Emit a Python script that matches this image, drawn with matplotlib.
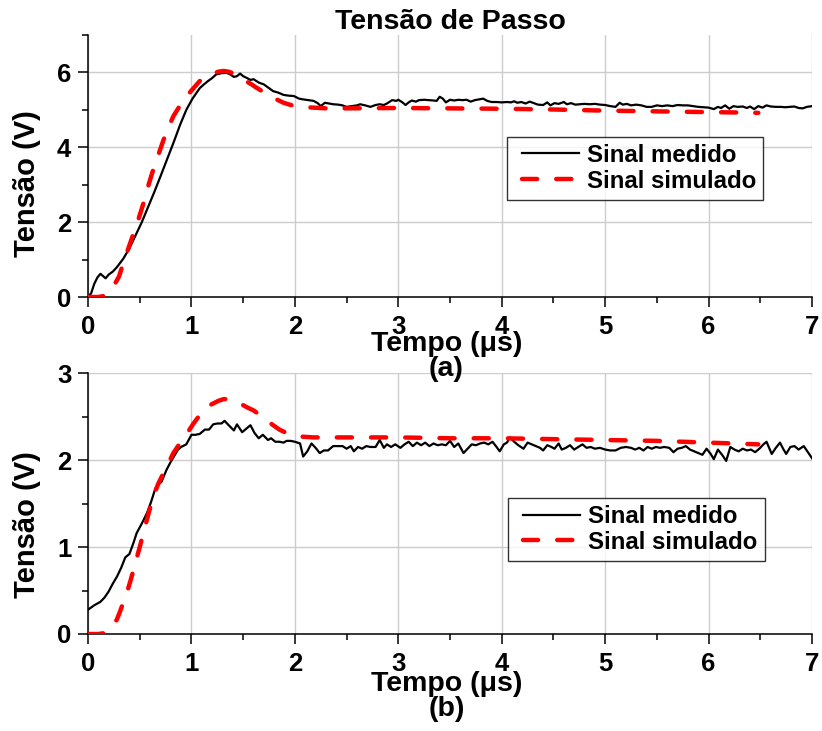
import matplotlib.pyplot as plt
from matplotlib.ticker import MultipleLocator
from matplotlib.legend_handler import HandlerLine2D
from matplotlib.lines import Line2D

plt.rcParams['font.family'] = ['Liberation Sans', 'DejaVu Sans']
plt.rcParams['font.weight'] = 'bold'

# ---- (a) measured signal ----
t_med_a = [0.00, 0.03, 0.06, 0.09, 0.12, 0.15, 0.17, 0.20, 0.24, 0.28, 0.34, 0.40, 0.46, 0.52,
           0.58, 0.64, 0.70, 0.76, 0.83, 0.89, 0.95, 1.01, 1.08, 1.12, 1.16, 1.20, 1.24, 1.29,
           1.34, 1.38, 1.41, 1.44, 1.47, 1.50, 1.53, 1.57, 1.60, 1.65, 1.70, 1.75, 1.79, 1.84,
           1.89, 1.94, 1.99, 2.04, 2.08, 2.13, 2.18, 2.22, 2.25, 2.29, 2.33, 2.37, 2.42, 2.46,
           2.50, 2.55, 2.60, 2.63, 2.68, 2.73, 2.78, 2.82, 2.86, 2.89, 2.94, 2.98, 3.00, 3.04,
           3.07, 3.10, 3.13, 3.17, 3.20, 3.25, 3.30, 3.34, 3.37, 3.40, 3.43, 3.46, 3.50, 3.54,
           3.58, 3.62, 3.66, 3.70, 3.74, 3.78, 3.82, 3.86, 3.90, 3.95, 4.00, 4.05, 4.09, 4.12,
           4.15, 4.19, 4.23, 4.27, 4.31, 4.35, 4.40, 4.44, 4.47, 4.51, 4.55, 4.60, 4.63, 4.67,
           4.71, 4.75, 4.80, 4.85, 4.90, 4.95, 5.00, 5.05, 5.10, 5.14, 5.17, 5.21, 5.25, 5.30,
           5.35, 5.40, 5.45, 5.50, 5.55, 5.60, 5.65, 5.70, 5.75, 5.80, 5.85, 5.90, 5.95, 6.00,
           6.05, 6.09, 6.12, 6.16, 6.20, 6.24, 6.28, 6.33, 6.37, 6.40, 6.44, 6.48, 6.52, 6.56,
           6.60, 6.65, 6.70, 6.74, 6.78, 6.83, 6.87, 6.91, 6.95, 7.00]
v_med_a = [0.00, 0.10, 0.35, 0.52, 0.62, 0.55, 0.50, 0.60, 0.68, 0.80, 1.02, 1.30, 1.65, 2.00,
           2.40, 2.80, 3.22, 3.65, 4.15, 4.60, 5.00, 5.30, 5.58, 5.68, 5.77, 5.85, 5.95, 5.98,
           5.99, 5.94, 5.88, 5.90, 5.97, 5.90, 5.86, 5.80, 5.82, 5.73, 5.68, 5.58, 5.50, 5.46,
           5.40, 5.38, 5.37, 5.30, 5.28, 5.26, 5.24, 5.18, 5.10, 5.19, 5.17, 5.15, 5.14, 5.12,
           5.08, 5.10, 5.12, 5.15, 5.12, 5.08, 5.13, 5.15, 5.13, 5.17, 5.26, 5.24, 5.27, 5.20,
           5.13, 5.20, 5.25, 5.22, 5.26, 5.27, 5.26, 5.25, 5.24, 5.35, 5.30, 5.20, 5.27, 5.25,
           5.27, 5.26, 5.27, 5.22, 5.26, 5.28, 5.30, 5.24, 5.21, 5.21, 5.20, 5.21, 5.20, 5.23,
           5.19, 5.21, 5.17, 5.22, 5.18, 5.14, 5.13, 5.20, 5.12, 5.18, 5.16, 5.21, 5.15, 5.18,
           5.14, 5.15, 5.16, 5.15, 5.16, 5.14, 5.13, 5.10, 5.08, 5.19, 5.14, 5.16, 5.12, 5.14,
           5.12, 5.08, 5.08, 5.12, 5.10, 5.12, 5.10, 5.13, 5.12, 5.12, 5.10, 5.08, 5.07, 5.06,
           5.02, 5.08, 5.05, 5.12, 5.03, 5.10, 5.08, 5.09, 5.05, 5.09, 5.02, 5.10, 5.06, 5.12,
           5.09, 5.08, 5.08, 5.07, 5.08, 5.09, 5.05, 5.04, 5.08, 5.10]

# ---- (a) simulated signal ----
t_sim_a = [0.00, 0.10, 0.16, 0.20, 0.245, 0.30, 0.34, 0.39, 0.44, 0.49, 0.535, 0.58, 0.63, 0.68,
           0.73, 0.78, 0.825, 0.89, 0.954, 1.02, 1.08, 1.14, 1.21, 1.26, 1.31, 1.36, 1.40, 1.45,
           1.50, 1.57, 1.63, 1.70, 1.76, 1.83, 1.89, 1.96, 2.02, 2.10, 2.18, 2.30, 2.50, 3.00,
           3.50, 4.00, 4.50, 5.00, 5.50, 6.00, 6.30, 6.48]
v_sim_a = [0.00, 0.00, 0.03, 0.12, 0.28, 0.55, 0.90, 1.30, 1.70, 2.10, 2.50, 2.95, 3.40, 3.80,
           4.20, 4.55, 4.83, 5.12, 5.37, 5.58, 5.77, 5.88, 5.97, 6.02, 6.04, 6.02, 5.98, 5.90,
           5.81, 5.70, 5.59, 5.47, 5.37, 5.27, 5.19, 5.13, 5.10, 5.07, 5.06, 5.04, 5.04, 5.05,
           5.04, 5.03, 5.01, 4.98, 4.96, 4.94, 4.93, 4.92]

# ---- (b) measured signal ----
t_med_b = [0.00, 0.06, 0.12, 0.16, 0.20, 0.24, 0.28, 0.32, 0.36, 0.40, 0.44, 0.47, 0.52, 0.57,
           0.61, 0.65, 0.68, 0.71, 0.76, 0.80, 0.83, 0.87, 0.90, 0.95, 1.00, 1.04, 1.08, 1.13,
           1.17, 1.21, 1.25, 1.29, 1.32, 1.36, 1.41, 1.44, 1.49, 1.53, 1.57, 1.61, 1.65, 1.69,
           1.74, 1.77, 1.81, 1.85, 1.89, 1.92, 1.96, 2.00, 2.05, 2.08, 2.12, 2.16, 2.20, 2.24,
           2.28, 2.32, 2.37, 2.42, 2.46, 2.50, 2.54, 2.57, 2.61, 2.65, 2.69, 2.73, 2.78, 2.82,
           2.86, 2.89, 2.93, 2.97, 3.02, 3.06, 3.10, 3.14, 3.18, 3.22, 3.26, 3.30, 3.34, 3.38,
           3.42, 3.46, 3.50, 3.54, 3.58, 3.63, 3.67, 3.71, 3.75, 3.79, 3.83, 3.87, 3.91, 3.95,
           3.98, 4.02, 4.05, 4.08, 4.12, 4.16, 4.21, 4.25, 4.29, 4.33, 4.37, 4.40, 4.44, 4.48,
           4.51, 4.55, 4.58, 4.62, 4.66, 4.70, 4.74, 4.78, 4.82, 4.86, 4.90, 4.95, 5.00, 5.05,
           5.10, 5.15, 5.20, 5.25, 5.29, 5.33, 5.37, 5.41, 5.45, 5.49, 5.53, 5.57, 5.62, 5.66,
           5.70, 5.74, 5.78, 5.82, 5.86, 5.90, 5.94, 5.98, 6.02, 6.05, 6.09, 6.13, 6.17, 6.21,
           6.25, 6.29, 6.33, 6.37, 6.41, 6.45, 6.49, 6.53, 6.56, 6.61, 6.65, 6.69, 6.72, 6.75,
           6.79, 6.83, 6.87, 6.92, 6.96, 7.00]
v_med_b = [0.28, 0.33, 0.37, 0.42, 0.49, 0.58, 0.66, 0.76, 0.88, 0.92, 1.05, 1.16, 1.27, 1.39,
           1.52, 1.67, 1.72, 1.75, 1.89, 1.98, 2.04, 2.12, 2.15, 2.18, 2.29, 2.29, 2.30, 2.35,
           2.35, 2.41, 2.42, 2.42, 2.45, 2.40, 2.34, 2.41, 2.32, 2.36, 2.40, 2.31, 2.25, 2.29,
           2.23, 2.25, 2.21, 2.21, 2.20, 2.22, 2.22, 2.21, 2.19, 2.04, 2.10, 2.19, 2.14, 2.08,
           2.11, 2.11, 2.16, 2.16, 2.16, 2.13, 2.16, 2.10, 2.15, 2.13, 2.16, 2.15, 2.15, 2.23,
           2.14, 2.18, 2.15, 2.18, 2.14, 2.18, 2.21, 2.16, 2.20, 2.17, 2.20, 2.16, 2.19, 2.17,
           2.18, 2.17, 2.22, 2.15, 2.19, 2.08, 2.13, 2.18, 2.17, 2.19, 2.20, 2.18, 2.21, 2.15,
           2.10, 2.18, 2.20, 2.26, 2.21, 2.17, 2.13, 2.20, 2.18, 2.16, 2.14, 2.11, 2.17, 2.15,
           2.13, 2.19, 2.12, 2.14, 2.17, 2.12, 2.15, 2.18, 2.14, 2.15, 2.13, 2.14, 2.12, 2.11,
           2.11, 2.14, 2.15, 2.14, 2.12, 2.14, 2.11, 2.15, 2.13, 2.15, 2.14, 2.15, 2.14, 2.09,
           2.13, 2.14, 2.16, 2.12, 2.10, 2.08, 2.06, 2.13, 2.07, 2.01, 2.12, 2.06, 1.99, 2.15,
           2.12, 2.10, 2.13, 2.11, 2.12, 2.09, 2.13, 2.18, 2.21, 2.07, 2.14, 2.20, 2.13, 2.07,
           2.15, 2.16, 2.12, 2.16, 2.09, 2.02]

# ---- (b) simulated signal ----
t_sim_b = [0.00, 0.10, 0.16, 0.20, 0.245, 0.28, 0.31, 0.34, 0.374, 0.41, 0.44, 0.47, 0.50, 0.535,
           0.568, 0.60, 0.63, 0.68, 0.73, 0.78, 0.825, 0.87, 0.92, 0.97, 1.02, 1.07, 1.115, 1.16,
           1.21, 1.26, 1.31, 1.36, 1.40, 1.47, 1.53, 1.60, 1.66, 1.72, 1.79, 1.85, 1.92, 1.98,
           2.05, 2.18, 2.50, 3.00, 3.50, 4.00, 4.50, 5.00, 5.50, 6.00, 6.48]
v_sim_b = [0.00, 0.00, 0.01, 0.04, 0.10, 0.17, 0.26, 0.36, 0.47, 0.61, 0.74, 0.87, 1.00, 1.16,
           1.31, 1.45, 1.58, 1.73, 1.85, 1.97, 2.08, 2.16, 2.23, 2.33, 2.42, 2.50, 2.57, 2.62,
           2.65, 2.68, 2.70, 2.70, 2.68, 2.65, 2.61, 2.57, 2.52, 2.46, 2.40, 2.35, 2.31, 2.28,
           2.27, 2.26, 2.26, 2.26, 2.25, 2.25, 2.24, 2.23, 2.22, 2.20, 2.18]

fig = plt.figure(figsize=(8.22, 7.31), dpi=100)
ax1 = fig.add_axes([0.1071, 0.5937, 0.8808, 0.3584])
ax2 = fig.add_axes([0.1071, 0.1327, 0.8808, 0.3570])

panels = [
    (ax1, t_med_a, v_med_a, t_sim_a, v_sim_a, 7, 2, '(a)', 0.433, (0.578, 0.612), -0.128),
    (ax2, t_med_b, v_med_b, t_sim_b, v_sim_b, 3, 1, '(b)', 0.421, (0.580, 0.522), -0.142),
]

dash_style = (0, (3.4, 4.3))

for ax, tm, vm, ts, vs, ymax, ystep, tag, ylab_y, leg_pos, xlab_y in panels:
    ax.plot(tm, vm, color='black', lw=1.6, label='Sinal medido', zorder=3)
    ax.plot(ts, vs, color='red', lw=3.2, ls=dash_style, dash_capstyle='round',
            label='Sinal simulado', zorder=4)
    ax.set_xlim(0, 7)
    ax.set_ylim(0, ymax)
    ax.xaxis.set_major_locator(MultipleLocator(1))
    ax.xaxis.set_minor_locator(MultipleLocator(0.5))
    ax.yaxis.set_major_locator(MultipleLocator(ystep))
    ax.yaxis.set_minor_locator(MultipleLocator(ystep / 2))
    ax.grid(True, which='major', color='#cccccc', lw=1)
    ax.set_axisbelow(True)
    for side in ['top', 'right']:
        ax.spines[side].set_visible(False)
    for side in ['left', 'bottom']:
        ax.spines[side].set_linewidth(1.1)
    ax.tick_params(axis='both', which='major', direction='out', length=7, width=1.1,
                   labelsize=18.5)
    ax.tick_params(axis='both', which='minor', direction='out', length=4, width=1.1)
    ax.tick_params(axis='x', which='major', pad=6)
    ax.tick_params(axis='y', which='major', pad=5)
    for lab in ax.get_xticklabels() + ax.get_yticklabels():
        lab.set_fontweight('bold')
    ax.set_ylabel('Tensão (V)', fontsize=21, fontweight='bold')
    ax.yaxis.set_label_coords(-0.065, ylab_y)
    fig.text(0.495, xlab_y, 'Tempo (\u03bcs)\n' + tag, transform=ax.transAxes,
             ha='center', va='top', fontsize=20.5, fontweight='bold', linespacing=0.95)
    leg = ax.legend(loc='upper left', bbox_to_anchor=leg_pos, borderaxespad=0,
                    fontsize=17.3, frameon=True, fancybox=False, edgecolor='black',
                    handlelength=2.7, handletextpad=0.33, borderpad=0.3,
                    labelspacing=0.12,
                    handler_map={Line2D: HandlerLine2D(xpad=0.34)})
    leg.get_frame().set_linewidth(1.0)
    for txt in leg.get_texts():
        txt.set_fontweight('bold')

ax1.set_title('Tensão de Passo', fontsize=20.5, fontweight='bold', pad=4)

plt.savefig('out.png', dpi=100)
